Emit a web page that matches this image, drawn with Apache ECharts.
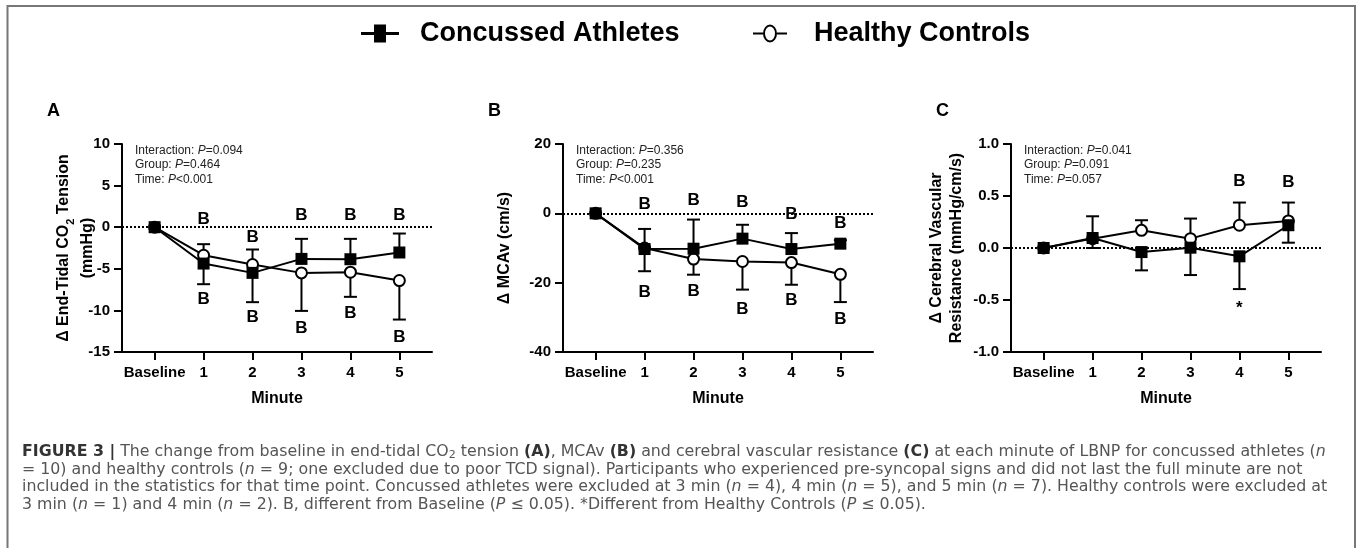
<!DOCTYPE html>
<html><head><meta charset="utf-8">
<script src="https://cdn.jsdelivr.net/npm/echarts@6/dist/echarts.min.js"></script>
<style>html,body{margin:0;padding:0;background:#fff}#c{width:1357px;height:548px}</style>
</head><body><div id="c"></div>
<script>
// ---------- DATA ----------
const categories = ['Baseline', '1', '2', '3', '4', '5'];
const seriesNames = ['Concussed Athletes', 'Healthy Controls'];

// Panel A: Δ End-Tidal CO2 Tension (mmHg)
const etco2Concussed   = [0, -4.37, -5.49, -3.81, -3.85, -3.04];
const etco2ConcussedSD = [0, 2.48, 3.52, 2.41, 2.45, 2.28];
const etco2ConcussedDir = [0, -1, -1, 1, 1, 1];
const etco2Healthy     = [0, -3.37, -4.49, -5.49, -5.41, -6.41];
const etco2HealthySD   = [0, 1.33, 1.81, 4.57, 2.96, 4.69];
const etco2HealthyDir  = [0, 1, 1, -1, -1, -1];
const etco2Marks = [[1, 0.96, 'B'], [1, -8.65, 'B'], [2, -1.16, 'B'], [2, -10.78, 'B'], [3, 1.44, 'B'], [3, -12.18, 'B'], [4, 1.44, 'B'], [4, -10.3, 'B'], [5, 1.44, 'B'], [5, -13.26, 'B']];
const etco2Stats = ['=0.094', '=0.464', '<0.001'];
const etco2Ticks = [-15, 10, 5];

// Panel B: Δ MCAv (cm/s)
const mcavConcussed   = [0, -10.3, -10.2, -7.3, -10.3, -8.75];
const mcavConcussedSD = [0, 5.8, 8.4, 4.0, 4.6, 1.0];
const mcavConcussedDir = [0, 1, 1, 1, 1, 1];
const mcavHealthy     = [0, -10.0, -13.2, -13.9, -14.2, -17.6];
const mcavHealthySD   = [0, 6.7, 4.5, 8.1, 6.4, 8.0];
const mcavHealthyDir  = [0, -1, -1, -1, -1, -1];
const mcavMarks = [[1, 2.5, 'B'], [1, -22.7, 'B'], [2, 3.65, 'B'], [2, -22.5, 'B'], [3, 3.3, 'B'], [3, -27.8, 'B'], [4, -0.2, 'B'], [4, -25.1, 'B'], [5, -2.8, 'B'], [5, -30.5, 'B']];
const mcavStats = ['=0.356', '=0.235', '<0.001'];
const mcavTicks = [-40, 20, 20];

// Panel C: Δ Cerebral Vascular Resistance (mmHg/cm/s)
const cvrConcussed   = [0, 0.096, -0.039, 0.003, -0.08, 0.219];
const cvrConcussedSD = [0, 0.096, 0.176, 0.263, 0.315, 0.168];
const cvrConcussedDir = [0, -1, -1, -1, -1, -1];
const cvrHealthy     = [0, 0.09, 0.17, 0.09, 0.219, 0.26];
const cvrHealthySD   = [0, 0.215, 0.097, 0.193, 0.218, 0.177];
const cvrHealthyDir  = [0, 1, 1, 1, 1, 1];
const cvrMarks = [[4, 0.637, 'B'], [5, 0.627, 'B'], [4, -0.58, '*']];
const cvrStats = ['=0.041', '=0.091', '=0.057'];
const cvrTicks = [-1, 1, 0.5];

// ---------- LAYOUT ----------
const FONT = '"Liberation Sans", Arial, Helvetica, sans-serif';
const CAPFONT = '"DejaVu Sans", sans-serif';
const panels = [
  { letter: 'A', left: 122, conc: etco2Concussed, concSD: etco2ConcussedSD, concDir: etco2ConcussedDir,
    heal: etco2Healthy, healSD: etco2HealthySD, healDir: etco2HealthyDir, marks: etco2Marks, stats: etco2Stats,
    ticks: etco2Ticks, decimals: 0, name: '{t|Δ End-Tidal CO}{s|2}{t| Tension}\n{t|(mmHg)}', nameGap: 22, lh: 24 },
  { letter: 'B', left: 563, conc: mcavConcussed, concSD: mcavConcussedSD, concDir: mcavConcussedDir,
    heal: mcavHealthy, healSD: mcavHealthySD, healDir: mcavHealthyDir, marks: mcavMarks, stats: mcavStats,
    ticks: mcavTicks, decimals: 0, name: '{t|Δ MCAv (cm/s)}', nameGap: 46, lh: 24 },
  { letter: 'C', left: 1011, conc: cvrConcussed, concSD: cvrConcussedSD, concDir: cvrConcussedDir,
    heal: cvrHealthy, healSD: cvrHealthySD, healDir: cvrHealthyDir, marks: cvrMarks, stats: cvrStats,
    ticks: cvrTicks, decimals: 1, name: '{t|Δ Cerebral Vascular}\n{t|Resistance (mmHg/cm/s)}', nameGap: 44, lh: 20 }
];
const GRID_TOP = 144, GRID_W = 310, GRID_H = 208;

function errRender(params, api) {
  const x = api.value(0), m = api.value(1), e = api.value(2);
  const p0 = api.coord([x, m]);
  const p1 = api.coord([x, e]);
  const hw = 6.5;
  return { type: 'group', children: [
    { type: 'line', shape: { x1: p0[0], y1: p0[1], x2: p1[0], y2: p1[1] }, style: { stroke: '#000', lineWidth: 2 } },
    { type: 'line', shape: { x1: p1[0] - hw, y1: p1[1], x2: p1[0] + hw, y2: p1[1] }, style: { stroke: '#000', lineWidth: 2 } }
  ]};
}

const grid = [], xAxis = [], yAxis = [], series = [], title = [];
const idx = categories.map((c, i) => i);
panels.forEach((p, k) => {
  grid.push({ left: p.left, top: GRID_TOP, width: GRID_W, height: GRID_H });
  xAxis.push({
    type: 'value', gridIndex: k, min: -2 / 3, max: 17 / 3,
    name: 'Minute', nameLocation: 'middle', nameGap: 39, nameMoveOverlap: false,
    nameTextStyle: { fontFamily: FONT, fontSize: 16, fontWeight: 'bold', color: '#000', lineHeight: 16 },
    axisLine: { show: true, onZero: false, lineStyle: { color: '#000', width: 2 } },
    axisTick: { show: true, length: 8, customValues: idx, lineStyle: { color: '#000', width: 2 } },
    axisLabel: { show: true, customValues: idx, margin: 13, fontFamily: FONT, fontSize: 15, fontWeight: 'bold', color: '#000',
      formatter: v => categories[Math.round(v)] },
    splitLine: { show: false }
  });
  yAxis.push({
    type: 'value', gridIndex: k, min: p.ticks[0], max: p.ticks[1], interval: p.ticks[2],
    name: p.name, nameLocation: 'middle', nameRotate: 90, nameGap: p.nameGap, nameMoveOverlap: false,
    nameTextStyle: { rich: {
      t: { fontFamily: FONT, fontSize: 16, fontWeight: 'bold', color: '#000', lineHeight: p.lh },
      s: { fontFamily: FONT, fontSize: 11, fontWeight: 'bold', color: '#000', lineHeight: 11, verticalAlign: 'bottom' }
    } },
    axisLine: { show: true, onZero: false, lineStyle: { color: '#000', width: 2 } },
    axisTick: { show: true, length: 8, lineStyle: { color: '#000', width: 2 } },
    axisLabel: { margin: 12, fontFamily: FONT, fontSize: 15, fontWeight: 'bold', color: '#000',
      formatter: v => v.toFixed(p.decimals) },
    splitLine: { show: false }
  });
  const errData = [];
  idx.forEach(i => {
    if (p.concSD[i] > 0) errData.push([i, p.conc[i], p.conc[i] + p.concDir[i] * p.concSD[i]]);
    if (p.healSD[i] > 0) errData.push([i, p.heal[i], p.heal[i] + p.healDir[i] * p.healSD[i]]);
  });
  series.push({
    type: 'custom', xAxisIndex: k, yAxisIndex: k, renderItem: errRender, data: errData, z: 2, silent: true,
    markLine: { silent: true, symbol: ['none', 'none'], label: { show: false },
      lineStyle: { type: [2, 2], color: '#000', width: 2 }, data: [{ yAxis: 0 }] }
  });
  series.push({
    name: seriesNames[1], type: 'line', xAxisIndex: k, yAxisIndex: k, z: 3,
    data: idx.map(i => [i, p.heal[i]]),
    symbol: 'circle', symbolSize: 11,
    itemStyle: { color: '#fff', borderColor: '#000', borderWidth: 2 },
    lineStyle: { color: '#000', width: 2 }, emphasis: { disabled: true }
  });
  series.push({
    name: seriesNames[0], type: 'line', xAxisIndex: k, yAxisIndex: k, z: 4,
    data: idx.map(i => [i, p.conc[i]]),
    symbol: 'rect', symbolSize: 12,
    itemStyle: { color: '#000' },
    lineStyle: { color: '#000', width: 2 }, emphasis: { disabled: true }
  });
  series.push({
    type: 'scatter', xAxisIndex: k, yAxisIndex: k, z: 5, silent: true,
    data: p.marks.map(m => ({ value: [m[0], m[1]], name: m[2] })),
    symbolSize: 0.1, itemStyle: { color: '#000', opacity: 1 }, emphasis: { disabled: true },
    label: { show: true, position: 'inside', formatter: '{b}', fontFamily: FONT, fontSize: 17, fontWeight: 'bold',
      color: '#000', opacity: 1, textBorderWidth: 0 }
  });
  title.push({
    text: 'Interaction: {i|P}' + p.stats[0] + '\nGroup: {i|P}' + p.stats[1] + '\nTime: {i|P}' + p.stats[2],
    left: p.left + 13, top: 143, padding: 0,
    textStyle: { fontFamily: FONT, fontSize: 12, fontWeight: 'normal', color: '#222', lineHeight: 14.6,
      rich: { i: { fontFamily: FONT, fontSize: 12, fontStyle: 'italic', color: '#222', lineHeight: 14.6 } } }
  });
  title.push({
    text: p.letter, left: p.left - 75, top: 102, padding: 0,
    textStyle: { fontFamily: FONT, fontSize: 18, fontWeight: 'bold', color: '#000' }
  });
});

const CAPSIZE = 15.8;
const captionRich = {
  b: { fontFamily: CAPFONT, fontSize: CAPSIZE, fontWeight: 'bold', fill: '#333', lineHeight: 18 },
  i: { fontFamily: CAPFONT, fontSize: CAPSIZE, fontStyle: 'italic', fill: '#555', lineHeight: 18 },
  s: { fontFamily: CAPFONT, fontSize: 11, fill: '#555', lineHeight: 11, verticalAlign: 'bottom' }
};
const captionLines = [
  '{b|FIGURE 3 |} The change from baseline in end-tidal CO{s|2} tension {b|(A)}, MCAv {b|(B)} and cerebral vascular resistance {b|(C)} at each minute of LBNP for concussed athletes ({i|n}',
  '= 10) and healthy controls ({i|n} = 9; one excluded due to poor TCD signal). Participants who experienced pre-syncopal signs and did not last the full minute are not',
  'included in the statistics for that time point. Concussed athletes were excluded at 3 min ({i|n} = 4), 4 min ({i|n} = 5), and 5 min ({i|n} = 7). Healthy controls were excluded at',
  '3 min ({i|n} = 1) and 4 min ({i|n} = 2). B, different from Baseline ({i|P} ≤ 0.05). *Different from Healthy Controls ({i|P} ≤ 0.05).'
];
const captionY = [452, 469.7, 487.3, 505];
const graphic = [
  { type: 'rect', shape: { x: 7.5, y: 6, width: 1347.5, height: 600 }, style: { fill: 'none', stroke: '#777', lineWidth: 2 }, silent: true }
];
captionLines.forEach((t, i) => graphic.push({
  type: 'text', x: 22, y: captionY[i], silent: true,
  style: { text: t, fontFamily: CAPFONT, fontSize: CAPSIZE, fill: '#555', lineHeight: 18, verticalAlign: 'middle', align: 'left', rich: captionRich }
}));

const legendText = { fontFamily: FONT, fontSize: 27, fontWeight: 'bold', color: '#000', lineHeight: 27 };
const legend = [
  { data: [{ name: seriesNames[0], icon: 'path://M0,7.5L38,7.5L38,10.5L0,10.5Z M13,0L25,0L25,18L13,18Z',
      itemStyle: { color: '#000', borderWidth: 0 } }],
    left: 361, top: 20, padding: 0, itemWidth: 38, itemHeight: 18, selectedMode: false,
    textStyle: Object.assign({ padding: [0, 0, 0, 16] }, legendText) },
  { data: [{ name: seriesNames[1], icon: 'path://M0,8L10,8L10,10L0,10Z M24,8L34,8L34,10L24,10Z M10,9A7,9 0 1,1 24,9A7,9 0 1,1 10,9Z M12,9A5,7 0 1,0 22,9A5,7 0 1,0 12,9Z',
      itemStyle: { color: '#000', borderWidth: 0 } }],
    left: 753, top: 20, padding: 0, itemWidth: 34, itemHeight: 18, selectedMode: false,
    textStyle: Object.assign({ padding: [0, 0, 0, 22] }, legendText) }
];

const chart = echarts.init(document.getElementById('c'), null, { renderer: 'canvas' });
chart.setOption({ animation: false, backgroundColor: '#fff', grid, xAxis, yAxis, series, title, legend, graphic });
</script>
</body></html>
